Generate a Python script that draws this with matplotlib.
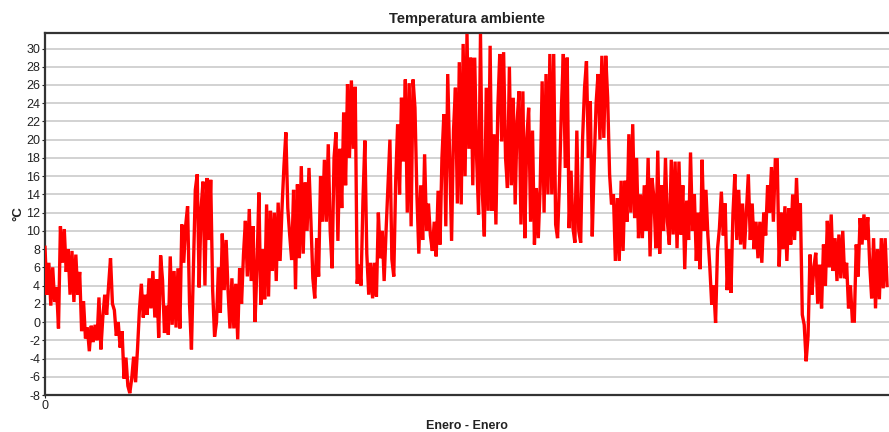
import numpy as np
import matplotlib
matplotlib.use("Agg")
import matplotlib.pyplot as plt

plt.rcParams['font.family'] = ['Liberation Sans', 'DejaVu Sans']

# Ambient temperature (°C), one reading every 20 hours over a year
step_hours = 20
temperature = [
    8.2, 3.0, 6.5, 1.8, 6.0, 2.2, 3.8, -0.7, 10.5, 6.5,
    10.2, 5.5, 8.0, 3.0, 7.8, 2.2, 7.4, 3.0, 5.5, -1.0,
    2.3, -1.8, -0.6, -3.2, -0.4, -2.2, -0.3, -2.0, 2.7, -3.0,
    0.5, 3.0, 0.8, 4.0, 7.0, 2.0, 1.3, -1.5, 0.0, -2.8,
    -1.0, -6.2, -3.9, -7.0, -7.8, -6.2, -3.8, -6.6, -3.0, 1.3,
    4.2, 0.5, 3.0, 0.8, 4.8, 1.5, 5.6, 0.5, 4.7, -1.7,
    7.3, 4.6, -1.2, 1.8, -1.4, 7.2, -0.3, 5.6, -0.6, 5.9,
    -0.7, 10.7, 6.5, 10.6, 12.7, 2.0, -3.0, 6.0, 14.5, 16.2,
    3.8, 12.5, 15.4, 4.0, 15.8, 9.0, 15.6, 3.5, -1.6, 0.0,
    6.0, 1.0, 9.7, 3.5, 9.0, 3.4, -0.7, 4.8, -0.7, 4.2,
    -1.9, 5.9, 2.0, 7.4, 11.1, 5.0, 12.4, 4.5, 10.5, 0.0,
    6.0, 14.2, 1.9, 8.0, 2.5, 12.9, 2.8, 12.2, 5.6, 12.0,
    4.5, 13.1, 6.7, 12.5, 17.1, 20.8, 12.5, 9.5, 6.8, 14.5,
    3.6, 15.1, 7.0, 17.1, 7.5, 15.3, 10.0, 16.9, 11.1, 4.8,
    2.6, 9.2, 5.0, 16.0, 11.0, 17.8, 11.0, 19.5, 10.0, 5.9,
    18.0, 20.8, 8.9, 19.0, 12.5, 23.0, 15.0, 26.1, 18.0, 26.5,
    19.0, 25.8, 4.2, 6.3, 4.0, 13.3, 19.9, 7.5, 3.0, 6.5,
    2.6, 6.5, 2.8, 12.0, 7.0, 10.0, 4.5, 10.0, 15.0, 20.0,
    6.9, 5.0, 15.5, 21.7, 14.0, 24.6, 17.6, 26.6, 12.0, 26.2,
    10.5, 26.6, 23.5, 14.0, 7.5, 15.0, 9.0, 18.4, 10.0, 13.0,
    9.5, 7.8, 11.0, 7.2, 14.4, 8.5, 18.0, 22.8, 10.5, 27.2,
    18.0, 8.9, 21.0, 25.7, 13.0, 28.5, 12.9, 30.5, 16.0, 31.6,
    19.0, 29.0, 15.0, 29.0, 18.0, 11.8, 31.6, 14.0, 9.4, 25.7,
    12.2, 30.3, 12.2, 20.6, 10.7, 23.5, 29.4, 19.8, 29.6, 18.0,
    14.7, 28.0, 15.0, 24.6, 12.9, 22.0, 25.3, 10.7, 25.3, 9.2,
    20.0, 23.5, 11.0, 21.0, 8.5, 14.7, 9.2, 15.0, 26.4, 12.0,
    27.2, 14.0, 29.4, 14.0, 29.4, 10.7, 9.2, 15.5, 23.5, 29.4,
    16.9, 29.0, 10.3, 16.6, 10.3, 8.7, 21.0, 10.0, 8.7, 20.2,
    25.7, 28.6, 18.0, 24.2, 9.4, 17.3, 24.0, 27.2, 20.0, 29.2,
    20.2, 29.2, 24.6, 16.2, 12.9, 14.0, 6.7, 13.6, 6.7, 15.5,
    7.8, 15.5, 11.0, 20.6, 12.0, 21.7, 11.4, 18.0, 9.2, 14.0,
    9.2, 15.0, 10.0, 18.0, 7.2, 15.8, 13.6, 8.1, 18.8, 7.5,
    15.0, 10.0, 18.0, 11.0, 8.5, 17.8, 9.6, 17.6, 8.1, 17.6,
    9.6, 15.0, 5.8, 13.3, 9.0, 18.6, 10.0, 14.0, 6.7, 12.0,
    5.8, 17.8, 10.0, 14.5, 9.5, 6.1, 1.9, 4.0, -0.1, 8.0,
    10.3, 14.3, 9.5, 13.0, 3.5, 8.0, 3.2, 11.8, 16.2, 9.0,
    14.5, 8.5, 13.0, 8.0, 12.0, 16.2, 9.0, 13.0, 8.0, 11.0,
    7.0, 11.0, 6.5, 12.0, 9.5, 15.0, 12.0, 17.0, 11.0, 17.8,
    17.8, 6.1, 12.0, 8.0, 12.7, 6.7, 12.5, 8.5, 14.0, 9.0,
    15.8, 10.0, 13.0, 0.8, -0.3, -4.3, -1.5, 7.4, 3.0, 6.0,
    7.6, 2.0, 6.3, 1.5, 8.5, 4.0, 11.1, 6.0, 11.8, 5.6,
    9.2, 4.5, 9.6, 4.8, 10.0, 4.8, 6.5, 1.5, 4.0, 0.1,
    0.1, 8.5, 5.0, 11.4, 8.5, 11.8, 9.0, 11.5, 6.3, 2.6,
    9.2, 1.5, 8.0, 2.5, 9.2, 3.7, 9.2, 4.0,
]
hours = np.arange(len(temperature)) * step_hours

y_ticks = list(range(-8, 31, 2))
x_ticks = [0]

fig = plt.figure(figsize=(8.89, 4.32), dpi=100)
ax = fig.add_axes([45 / 889, 1 - 395 / 432, 1 - 45 / 889, (395 - 33) / 432])

for v in y_ticks:
    ax.axhline(v, color='#d2d2d2', linewidth=1.4, zorder=1)

ax.plot(hours, temperature, color='#ff0000', linewidth=2.4, zorder=3,
        solid_joinstyle='miter')

ax.set_xlim(0, 8760)
ax.set_ylim(-8, 31.7)
ax.set_yticks(y_ticks)
ax.set_yticklabels([str(v) for v in y_ticks])
ax.set_xticks(x_ticks)
ax.set_xticklabels(['0'])
ax.tick_params(axis='both', labelsize=9, colors='#222222', length=2,
               width=0.8, pad=1.5)

for side in ['top', 'bottom', 'left']:
    ax.spines[side].set_color('#333333')
    ax.spines[side].set_linewidth(1.6)
ax.spines['right'].set_visible(False)

ax.set_title('Temperatura ambiente', fontsize=10.5, fontweight='bold',
             color='#222222', pad=7)
ax.set_xlabel('Enero - Enero', fontsize=9, fontweight='bold',
              color='#222222', labelpad=6)
ax.set_ylabel('°C', fontsize=9.5, fontweight='bold', color='#222222',
              labelpad=1)

fig.savefig('out.png', dpi=100)
